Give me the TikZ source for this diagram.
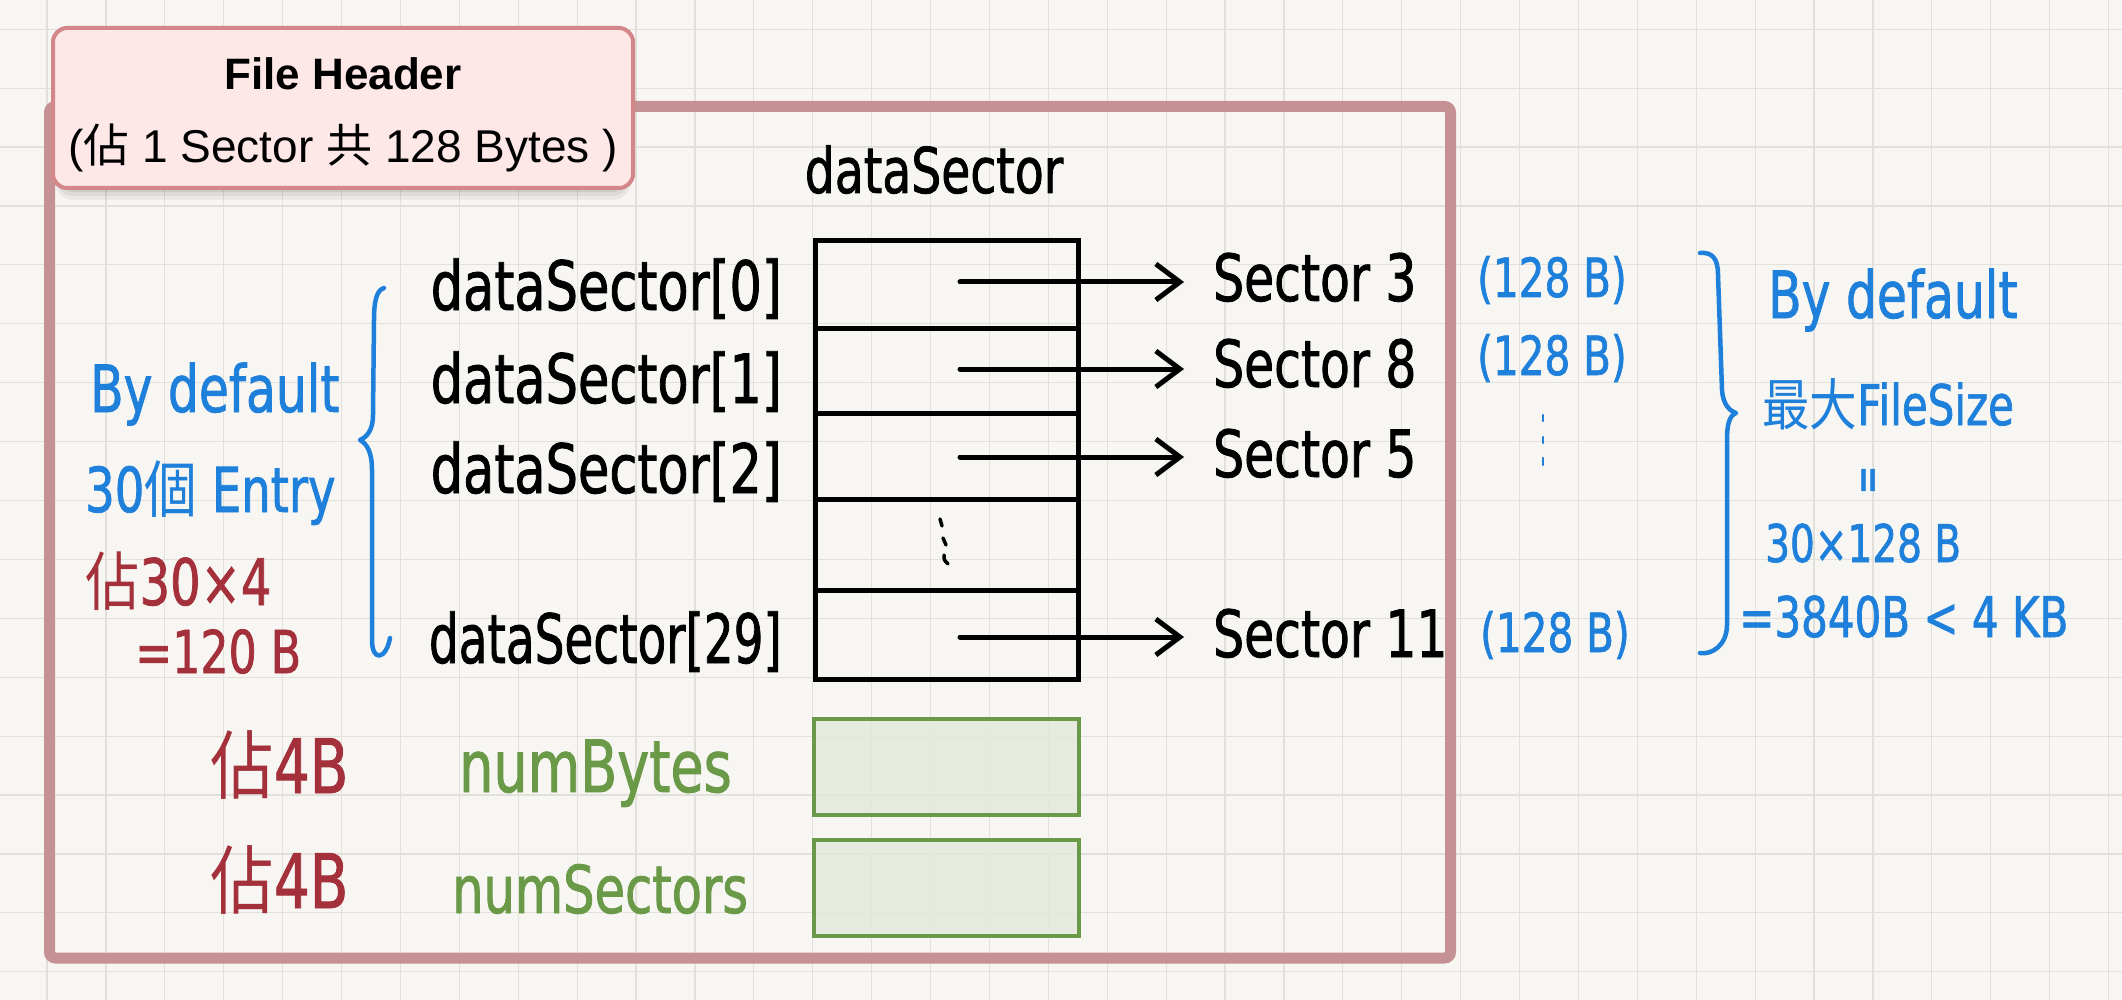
\documentclass[tikz,border=0pt]{standalone}
\usepackage{fontspec}
\usepackage{graphicx}
\setmainfont{Liberation Sans}
\newfontfamily\cjk{Noto Sans CJK TC}
\newfontfamily\hand[FakeStretch=0.75,FakeBold=1.2]{DejaVu Sans}
\usetikzlibrary{arrows.meta}
\definecolor{bgc}{HTML}{F7F6F2}
\definecolor{gridc}{HTML}{E2E0DB}
\definecolor{framec}{HTML}{C69192}
\definecolor{hdrfill}{HTML}{FDE8E7}
\definecolor{hdrline}{HTML}{D4878A}
\definecolor{penblue}{HTML}{1E80DA}
\definecolor{penred}{HTML}{A3303A}
\definecolor{pengreen}{HTML}{6A9A48}
\definecolor{boxfill}{HTML}{E4E8DC}
\newcommand{\hsz}[1]{\fontsize{#1}{#1}\selectfont}
\newcommand{\cjkh}[1]{\scalebox{0.85}[1]{\cjk #1}}
\begin{document}
\begin{tikzpicture}[x=1pt,y=-1pt,
  gridline/.style={gridc, line width=1.2pt},
  handtext/.style={inner sep=0pt, font=\hand\hsz{#1}},
  blk/.style={handtext=#1, text=black},
  blu/.style={handtext=#1, text=penblue},
  rd/.style={handtext=#1, text=penred},
  grn/.style={handtext=#1, text=pengreen},
  cell/.style={draw=black, line width=5pt, inner sep=0pt, minimum width=263pt, anchor=north west},
  gbox/.style={draw=pengreen, line width=4pt, fill=boxfill, fill opacity=0.85, inner sep=0pt, minimum width=265pt, minimum height=96pt, anchor=north west},
  arr/.style={line width=5pt, line cap=round, -{Straight Barb[length=24pt,width=36pt]}},
  pen/.style={penblue, line width=4.5pt, line cap=round, line join=round},
  hdrtext/.style={inner sep=0pt, font=\hsz{#1}, text=black}
]
\useasboundingbox (0,0) rectangle (2122,1000);
\fill[bgc] (0,0) rectangle (2122,1000);
\foreach \k in {0,...,35} \draw[gridline] ({47+58.9*\k},0) -- ({47+58.9*\k},1000);
\foreach \k in {0,...,16} \draw[gridline] (0,{29.3+58.9*\k}) -- (2122,{29.3+58.9*\k});

% outer frame
\draw[framec, line width=11pt, rounded corners=6pt] (49.5,106.5) rectangle (1450.5,958);

% header with soft shadow
\fill[black, opacity=0.05, rounded corners=18pt] (55,44) rectangle (631,200);
\fill[black, opacity=0.06, rounded corners=16pt] (57,40) rectangle (629,196);
\fill[black, opacity=0.07, rounded corners=15pt] (59,36) rectangle (627,192);
\node[draw=hdrline, fill=hdrfill, line width=4pt, rounded corners=14pt, minimum width=580pt, minimum height=160pt, inner sep=0pt] (hdr) at (343,108) {};
\node[hdrtext=44, anchor=base, font=\bfseries\hsz{44}] (hdrA) at (343,90) {File Header};
\node[hdrtext=46, anchor=base] (hdrB) at (343,163) {({\cjk 佔} 1 Sector {\cjk 共} 128 Bytes )};

% title
\node[blk=63, anchor=base] (title) at (934,193) {dataSector};

% table rows
\node[cell, minimum height=88pt] (r0) at (813,238) {};
\node[cell, minimum height=85pt] (r1) at (813,326) {};
\node[cell, minimum height=86pt] (r2) at (813,411) {};
\node[cell, minimum height=91pt] (r3) at (813,497) {};
\node[cell, minimum height=89pt] (r4) at (813,588) {};
% dots in table
\draw[line width=3.5pt, line cap=round] (940,519) -- (942,526);
\draw[line width=3.5pt, line cap=round] (943,538) -- (946,545);
\draw[line width=3.5pt, line cap=round] (944,555) .. controls (944,560) .. (948,564);

% labels left of table
\node[blk=68, anchor=base east] (d0) at (782,310) {dataSector[0]};
\node[blk=68, anchor=base east] (d1) at (782,403) {dataSector[1]};
\node[blk=68, anchor=base east] (d2) at (782,493) {dataSector[2]};
\node[blk=68, anchor=base east] (d29) at (782,663) {\scalebox{0.92}[1]{dataSector[29]}};

% sector labels
\node[blk=65, anchor=base west] (sec0) at (1213,301) {Sector 3};
\node[blk=65, anchor=base west] (sec1) at (1213,387) {Sector 8};
\node[blk=65, anchor=base west] (sec2) at (1213,477) {Sector 5};
\node[blk=65, anchor=base west] (sec3) at (1213,657) {Sector 11};

% arrows
\coordinate (tipx) at (1184,0);
\coordinate (a0) at (960,282);
\coordinate (a1) at (960,369);
\coordinate (a2) at (960,457);
\coordinate (a3) at (960,637);
\draw[arr] (a0) -- (a0 -| tipx);
\draw[arr] (a1) -- (a1 -| tipx);
\draw[arr] (a2) -- (a2 -| tipx);
\draw[arr] (a3) -- (a3 -| tipx);

% blue sizes
\node[blu=54, anchor=base west] (b0) at (1477,297) {(128 B)};
\node[blu=54, anchor=base west] (b1) at (1477,375) {(128 B)};
\node[blu=54, anchor=base west] (b3) at (1480,652) {(128 B)};
\draw[penblue, line width=2.5pt, line cap=round] (1543,415) -- (1543,421);
\draw[penblue, line width=2.5pt, line cap=round] (1543,437) -- (1543,443);
\draw[penblue, line width=2.5pt, line cap=round] (1543,458) -- (1543,465);

% right brace
\draw[pen] (1700,253) .. controls (1712,252) and (1718,258) .. (1718,275) -- (1722,390)
  .. controls (1723,405) and (1730,411) .. (1736,413)
  .. controls (1729,416) and (1727,425) .. (1727,440) -- (1727,625)
  .. controls (1727,645) and (1712,655) .. (1700,653);

% right notes
\node[blu=65, anchor=base west] (rn1) at (1768,318) {By default};
\node[blu=56, anchor=base west] (rn2) at (1762,425) {\cjkh{最大}FileSize};
\node[blu=46, rotate=90] (rn3) at (1872,480) {=};
\node[blu=52, anchor=base west] (rn4) at (1765,562) {30×128 B};
\node[blu=56, anchor=base west] (rn5) at (1739,637) {=3840B < 4 KB};

% left brace
\draw[pen] (384,288) .. controls (377,290) and (374,300) .. (374,320) -- (373,415)
  .. controls (373,430) and (367,437) .. (360,440)
  .. controls (367,444) and (372,452) .. (372,470) -- (372,640)
  .. controls (372,662) and (386,660) .. (390,638);

% left notes
\node[blu=65, anchor=base west] (ln1) at (90,412) {By default};
\node[blu=62, anchor=base west] (ln2) at (85,512) {30\cjkh{個} Entry};
\node[rd=64, anchor=base west] (ln3) at (85,605) {\cjkh{佔}30×4};
\node[rd=59, anchor=base west] (ln4) at (135,673) {=120 B};

% bottom fields
\node[gbox] (g1) at (812,717) {};
\node[gbox] (g2) at (812,838) {};
\node[rd=75, anchor=base west] (sz1) at (210,793) {\cjkh{佔}4B};
\node[rd=75, anchor=base west] (sz2) at (210,908) {\cjkh{佔}4B};
\node[grn=72, anchor=base west] (nb) at (459,792) {numBytes};
\node[grn=66, anchor=base west] (ns) at (452,913) {numSectors};
\end{tikzpicture}
\end{document}
